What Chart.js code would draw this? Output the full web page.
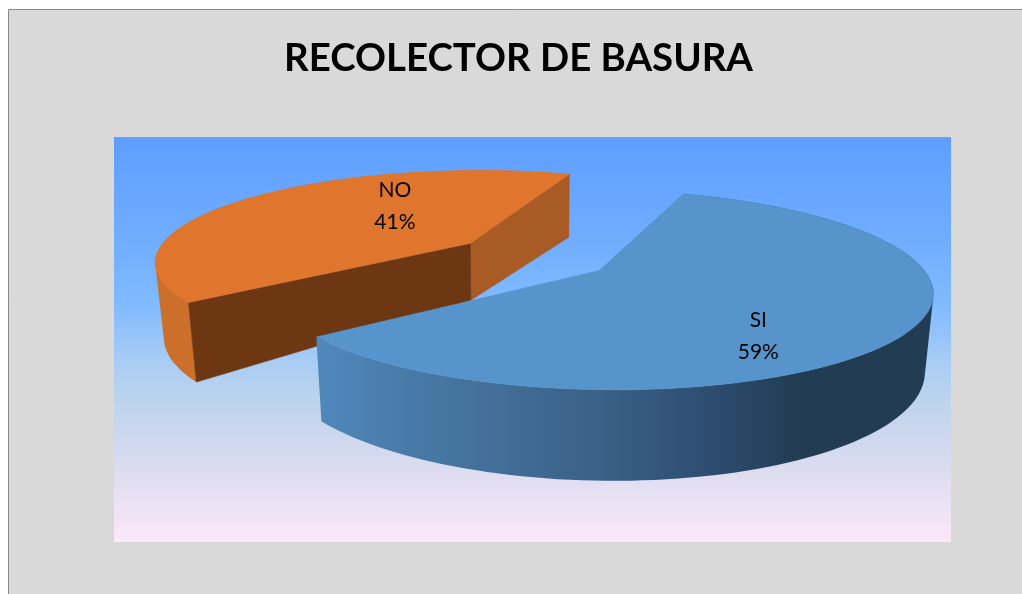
<!DOCTYPE html>
<html><head><meta charset="utf-8">
<style>html,body{margin:0;padding:0;background:#fff}#w{width:1022px;height:594px;position:relative}</style>
<script src="https://cdn.jsdelivr.net/npm/chart.js@4"></script></head>
<body><div id="w"><canvas id="c" width="1022" height="594"></canvas></div>
<script>
const categories = ['SI', 'NO'];
const percentages = [59, 41];
const sliceTop = ['#5694cb', '#e0752d'];
const chartTitle = 'RECOLECTOR DE BASURA';

// camera of the tilted pie: world unit circle -> screen
const CAM = {dx: 14.5, dy: -83, A: 316, B: 91, k: 0.187, vx: 545, squeeze: 0.022};
const LABEL = [{r: .62, dx: -21, dy: 28}, {r: .55, dx: 50, dy: -11}];

function proj(c, X, Y, r) {
  const s = 1 / (1 - CAM.k * Y);
  const x = c.x0 + CAM.A * X * s, y = c.y0 + CAM.B * Y * s;
  const h = 63 + .13 * (y - 174) - 15 * (1 - r);
  return {x, y, bx: x + (CAM.vx - x) * CAM.squeeze * (.3 + .7 * r), by: y + h};
}
function poly(ctx, pts, fill) {
  ctx.beginPath();
  pts.forEach((p, i) => i ? ctx.lineTo(p[0], p[1]) : ctx.moveTo(p[0], p[1]));
  ctx.closePath(); ctx.fillStyle = fill; ctx.fill();
  ctx.strokeStyle = fill; ctx.lineWidth = .6; ctx.stroke();
}
// wall between two rims: all quads in one path, same winding, so no seams or holes
function strip(ctx, pts, fill) {
  ctx.beginPath();
  for (let i = 0; i + 1 < pts.length; i++) {
    const p = pts[i], q = pts[i + 1];
    let quad = [[p.x, p.y], [q.x, q.y], [q.bx, q.by], [p.bx, p.by]];
    let area = 0;
    quad.forEach((a, j) => { const b = quad[(j + 1) % 4]; area += a[0] * b[1] - b[0] * a[1]; });
    if (area < 0) quad = quad.reverse();
    quad.forEach((a, j) => j ? ctx.lineTo(a[0], a[1]) : ctx.moveTo(a[0], a[1]));
    ctx.closePath();
  }
  ctx.fillStyle = fill; ctx.fill('nonzero');
}
const pie3d = {
  id: 'pie3d',
  beforeDraw(chart) {
    const {ctx, chartArea: a} = chart;
    ctx.save();
    ctx.fillStyle = '#d9d9d9'; ctx.fillRect(8, 9, 1100, 700);
    ctx.strokeStyle = '#8a8a8a'; ctx.lineWidth = 1;
    ctx.beginPath(); ctx.moveTo(8.5, 600); ctx.lineTo(8.5, 9.5); ctx.lineTo(1030, 9.5); ctx.stroke();
    const g = ctx.createLinearGradient(0, a.top, 0, a.bottom);
    [[0,'#5e9eff'],[.28,'#72afff'],[.42,'#82bbff'],[.56,'#aacdf3'],[.66,'#bfd4ec'],[.82,'#dcdcf0'],[1,'#fce8f9']]
      .forEach(s => g.addColorStop(s[0], s[1]));
    ctx.fillStyle = g; ctx.fillRect(114, a.top, 837, a.bottom - a.top);
    ctx.restore();
  },
  beforeDatasetsDraw(chart) {
    const ctx = chart.ctx, meta = chart.getDatasetMeta(0);
    const geo = meta.data.map(arc => {
      const p = arc.getProps(['x','y','startAngle','endAngle','outerRadius'], true);
      const mid = (p.startAngle + p.endAngle) / 2;
      const d = arc.options.offset / 4 / p.outerRadius;
      return {x0: p.x + CAM.dx, y0: p.y + CAM.dy, a: p.startAngle, b: p.endAngle, mid,
              cx: Math.cos(mid) * d, cy: Math.sin(mid) * d};
    });
    const rim = (g, t, r = 1) => proj(g, g.cx + r * Math.cos(t), g.cy + r * Math.sin(t), r);
    const arcPts = (g) => { const n = 120, o = [];
      for (let i = 0; i <= n; i++) o.push(rim(g, g.a + (g.b - g.a) * i / n)); return o; };
    ctx.save();
    const drawSlice = (i) => {
      const g = geo[i], pts = arcPts(g), apex = rim(g, 0, 0);
      const first = pts[0], last = pts[pts.length - 1];
      if (i === 1) {
        strip(ctx, pts, '#cc6f2a');
        poly(ctx, [[apex.x, apex.y], [last.x, last.y], [last.bx, last.by], [apex.bx, apex.by]], '#a85b24');
        poly(ctx, [[apex.x, apex.y], [first.x, first.y], [first.bx, first.by], [apex.bx, apex.by]], '#6e3714');
      } else {
        const w = ctx.createLinearGradient(315, 0, 933, 0);
        [[0,'#5088bc'],[.25,'#44729c'],[.47,'#3a6086'],[.62,'#2f4f74'],[.78,'#223c53'],[1,'#223c53']]
          .forEach(s => w.addColorStop(s[0], s[1]));
        strip(ctx, pts, w);
      }
      poly(ctx, [[apex.x, apex.y]].concat(pts.map(p => [p.x, p.y])), sliceTop[i]);
    };
    drawSlice(1); drawSlice(0);
    ctx.fillStyle = '#000'; ctx.textAlign = 'center'; ctx.textBaseline = 'middle';
    ctx.font = '21px Lato';
    geo.forEach((g, i) => {
      const p = rim(g, g.mid, LABEL[i].r);
      const x = p.x + LABEL[i].dx, y = p.y + LABEL[i].dy;
      ctx.fillText(chart.data.labels[i], x, y - 16);
      ctx.fillText(chart.data.datasets[0].data[i] + '%', x, y + 16);
    });
    ctx.restore();
    return false;
  }
};
new Chart(document.getElementById('c'), {
  type: 'pie',
  data: {labels: categories, datasets: [{data: percentages, backgroundColor: sliceTop, offset: 136, borderWidth: 0}]},
  plugins: [pie3d],
  options: {
    responsive: false, animation: false, rotation: 20,
    layout: {padding: {left: 15, right: 0, top: 36, bottom: 52}},
    plugins: {
      legend: {display: false}, tooltip: {enabled: false},
      title: {display: true, text: chartTitle, color: '#000',
              font: {family: 'Lato', size: 38.4, weight: 'bold', lineHeight: 1.2},
              padding: {top: 0, bottom: 55}}
    }
  }
});
</script></body></html>
